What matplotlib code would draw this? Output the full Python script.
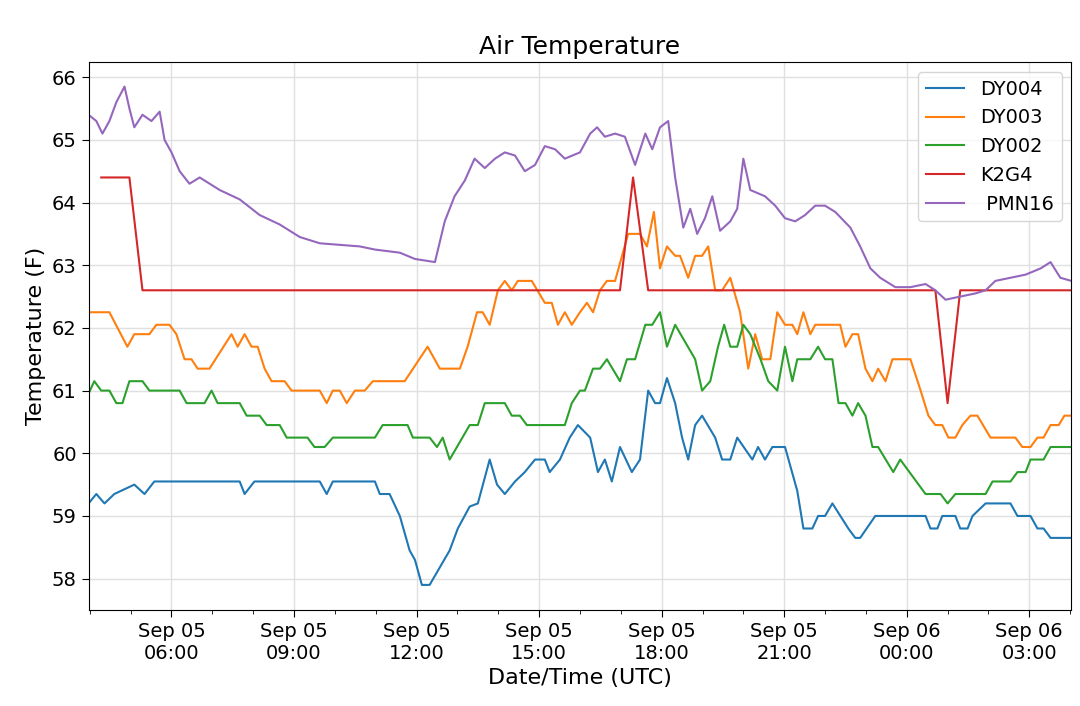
import datetime as dt
import matplotlib
matplotlib.use("Agg")
import matplotlib.pyplot as plt
import matplotlib.dates as mdates

# hours since Sep 05 00:00 UTC, and temperature (F)
dy004_h = [3.97,4.16,4.36,4.60,5.09,5.34,5.58,7.67,7.79,8.03,9.63,9.80,9.95,10.98,11.10,11.34,11.59,11.83,11.96,12.13,12.32,12.81,13.01,13.30,13.50,13.79,13.97,14.16,14.41,14.65,14.90,15.14,15.26,15.51,15.75,15.95,16.25,16.44,16.61,16.78,16.98,17.27,17.47,17.67,17.84,17.96,18.13,18.33,18.50,18.65,18.82,18.99,19.31,19.48,19.68,19.85,20.22,20.36,20.53,20.71,21.02,21.32,21.47,21.69,21.83,22.00,22.18,22.57,22.74,22.86,23.23,24.46,24.58,24.75,24.87,25.19,25.31,25.49,25.61,25.93,26.54,26.71,27.03,27.20,27.35,27.52,28.03]
dy004_t = [59.2,59.35,59.2,59.35,59.5,59.35,59.55,59.55,59.35,59.55,59.55,59.35,59.55,59.55,59.35,59.35,59.0,58.45,58.3,57.9,57.9,58.45,58.8,59.15,59.2,59.9,59.5,59.35,59.55,59.7,59.9,59.9,59.7,59.9,60.25,60.45,60.25,59.7,59.9,59.55,60.1,59.7,59.9,61.0,60.8,60.8,61.2,60.8,60.25,59.9,60.45,60.6,60.25,59.9,59.9,60.25,59.9,60.1,59.9,60.1,60.1,59.4,58.8,58.8,59.0,59.0,59.2,58.8,58.65,58.65,59.0,59.0,58.8,58.8,59.0,59.0,58.8,58.8,59.0,59.2,59.2,59.0,59.0,58.8,58.8,58.65,58.65]

dy003_h = [3.97,4.48,4.92,5.09,5.46,5.63,5.95,6.12,6.32,6.49,6.64,6.93,7.47,7.62,7.79,7.96,8.11,8.28,8.45,8.77,8.94,9.63,9.80,9.95,10.12,10.29,10.49,10.73,10.93,11.71,12.27,12.57,13.06,13.25,13.48,13.62,13.79,13.99,14.16,14.33,14.48,14.82,15.14,15.31,15.46,15.63,15.80,16.00,16.17,16.32,16.49,16.66,16.86,17.03,17.18,17.47,17.64,17.81,17.96,18.13,18.33,18.45,18.65,18.82,18.99,19.14,19.31,19.48,19.68,19.92,20.12,20.29,20.46,20.66,20.83,21.02,21.20,21.32,21.47,21.64,21.76,22.37,22.50,22.67,22.81,22.99,23.16,23.30,23.48,23.65,24.09,24.34,24.53,24.70,24.87,25.02,25.19,25.36,25.56,25.73,26.05,26.66,26.83,27.03,27.20,27.35,27.52,27.72,27.86,28.03]
dy003_t = [62.25,62.25,61.7,61.9,61.9,62.05,62.05,61.9,61.5,61.5,61.35,61.35,61.9,61.7,61.9,61.7,61.7,61.35,61.15,61.15,61.0,61.0,60.8,61.0,61.0,60.8,61.0,61.0,61.15,61.15,61.7,61.35,61.35,61.7,62.25,62.25,62.05,62.6,62.75,62.6,62.75,62.75,62.4,62.4,62.05,62.25,62.05,62.25,62.4,62.25,62.6,62.75,62.75,63.15,63.5,63.5,63.3,63.85,62.95,63.3,63.15,63.15,62.8,63.15,63.15,63.3,62.6,62.6,62.8,62.25,61.35,61.9,61.5,61.5,62.25,62.05,62.05,61.9,62.25,61.9,62.05,62.05,61.7,61.9,61.9,61.35,61.15,61.35,61.15,61.5,61.5,61.0,60.6,60.45,60.45,60.25,60.25,60.45,60.6,60.6,60.25,60.25,60.1,60.1,60.25,60.25,60.45,60.45,60.6,60.6]

dy002_h = [3.97,4.11,4.28,4.48,4.65,4.80,4.97,5.29,5.46,6.20,6.37,6.81,6.98,7.13,7.67,7.84,8.16,8.33,8.65,8.82,9.33,9.50,9.75,9.95,10.98,11.17,11.78,11.91,12.32,12.50,12.64,12.81,13.30,13.50,13.67,14.16,14.33,14.53,14.70,15.63,15.80,16.00,16.12,16.32,16.49,16.66,16.98,17.15,17.35,17.60,17.77,17.96,18.13,18.33,18.82,18.99,19.19,19.38,19.53,19.68,19.85,20.00,20.17,20.42,20.61,20.83,21.02,21.20,21.32,21.64,21.83,22.00,22.18,22.33,22.50,22.67,22.81,22.99,23.16,23.30,23.67,23.84,24.46,24.83,25.00,25.19,25.93,26.10,26.54,26.71,26.91,27.03,27.35,27.52,28.03]
dy002_t = [60.95,61.15,61.0,61.0,60.8,60.8,61.15,61.15,61.0,61.0,60.8,60.8,61.0,60.8,60.8,60.6,60.6,60.45,60.45,60.25,60.25,60.1,60.1,60.25,60.25,60.45,60.45,60.25,60.25,60.1,60.25,59.9,60.45,60.45,60.8,60.8,60.6,60.6,60.45,60.45,60.8,61.0,61.0,61.35,61.35,61.5,61.15,61.5,61.5,62.05,62.05,62.25,61.7,62.05,61.5,61.0,61.15,61.7,62.05,61.7,61.7,62.05,61.9,61.5,61.15,61.0,61.7,61.15,61.5,61.5,61.7,61.5,61.5,60.8,60.8,60.6,60.8,60.6,60.1,60.1,59.7,59.9,59.35,59.35,59.2,59.35,59.35,59.55,59.55,59.7,59.7,59.9,59.9,60.1,60.1]

k2g4_h = [4.28,4.97,5.29,16.98,17.30,17.67,24.70,25.00,25.31,28.03]
k2g4_t = [64.4,64.4,62.6,62.6,64.4,62.6,62.6,60.8,62.6,62.6]

pmn16_h = [3.97,4.16,4.31,4.48,4.65,4.85,4.97,5.09,5.29,5.51,5.71,5.83,6.00,6.20,6.44,6.69,7.18,7.67,8.16,8.65,9.14,9.63,10.61,10.98,11.59,11.96,12.45,12.69,12.93,13.18,13.42,13.67,13.92,14.16,14.41,14.65,14.90,15.14,15.39,15.63,16.00,16.25,16.42,16.61,16.86,17.10,17.35,17.60,17.77,17.96,18.16,18.33,18.53,18.70,18.87,19.06,19.24,19.43,19.68,19.85,20.00,20.17,20.53,20.78,21.02,21.27,21.51,21.76,22.00,22.25,22.62,22.86,23.11,23.35,23.72,24.09,24.46,24.70,24.95,25.31,25.68,25.93,26.17,26.54,26.91,27.28,27.52,27.76,28.03]
pmn16_t = [65.4,65.3,65.1,65.3,65.6,65.85,65.5,65.2,65.4,65.3,65.45,65.0,64.8,64.5,64.3,64.4,64.2,64.05,63.8,63.65,63.45,63.35,63.3,63.25,63.2,63.1,63.05,63.7,64.1,64.35,64.7,64.55,64.7,64.8,64.75,64.5,64.6,64.9,64.85,64.7,64.8,65.1,65.2,65.05,65.1,65.05,64.6,65.1,64.85,65.2,65.3,64.4,63.6,63.9,63.5,63.75,64.1,63.55,63.7,63.9,64.7,64.2,64.1,63.95,63.75,63.7,63.8,63.95,63.95,63.85,63.6,63.3,62.95,62.8,62.65,62.65,62.7,62.6,62.45,62.5,62.55,62.6,62.75,62.8,62.85,62.95,63.05,62.8,62.75]

start = dt.datetime(2020, 9, 5)
def to_dt(hours):
    return [start + dt.timedelta(hours=h) for h in hours]

plt.rcParams['font.size'] = 14
fig = plt.figure(figsize=(10.8, 7.06), dpi=100)
ax = fig.add_axes([0.082, 0.136, 0.910, 0.776])

ax.plot(to_dt(dy004_h), dy004_t, color='#1f77b4', lw=1.5, label='DY004')
ax.plot(to_dt(dy003_h), dy003_t, color='#ff7f0e', lw=1.5, label='DY003')
ax.plot(to_dt(dy002_h), dy002_t, color='#2ca02c', lw=1.5, label='DY002')
ax.plot(to_dt(k2g4_h), k2g4_t, color='#d62728', lw=1.5, label='K2G4')
ax.plot(to_dt(pmn16_h), pmn16_t, color='#9467bd', lw=1.5, label=' PMN16')

ax.set_xlim(start + dt.timedelta(hours=3.97), start + dt.timedelta(hours=28.03))
ax.set_ylim(57.5, 66.24)
ax.xaxis.set_major_locator(mdates.HourLocator(byhour=[0, 3, 6, 9, 12, 15, 18, 21]))
ax.xaxis.set_minor_locator(mdates.HourLocator())
ax.xaxis.set_major_formatter(mdates.DateFormatter('%b %d\n%H:%M'))
ax.grid(True, which='major', color='#e0e0e0', lw=1)
ax.tick_params(which='major', length=5)
ax.tick_params(which='minor', length=3)
ax.set_title('Air Temperature', fontsize=18)
ax.set_xlabel('Date/Time (UTC)', fontsize=16)
ax.set_ylabel('Temperature (F)', fontsize=16)
ax.legend(loc='upper right', fontsize=14)

fig.savefig('out.png')
